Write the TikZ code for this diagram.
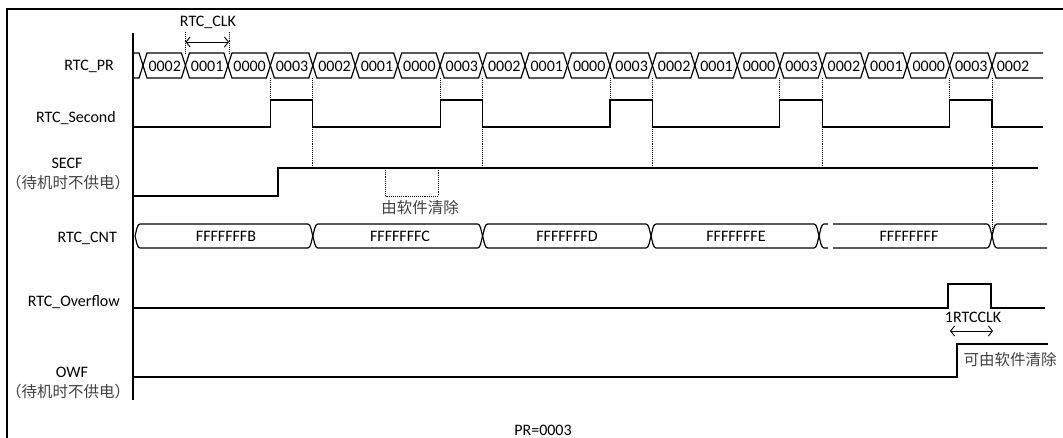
\documentclass[tikz,border=0pt]{standalone}
\usepackage{fontspec}
\setmainfont{Carlito}
\newfontfamily\cjk{Noto Sans CJK SC}
\usetikzlibrary{arrows.meta}
\begin{document}
\begin{tikzpicture}[x=1pt,y=-1pt,
  sig/.style={line width=1.2pt},
  guide/.style={densely dotted, line width=0.9pt},
  lbl/.style={font=\fontsize{16}{18}\selectfont, inner sep=0pt},
  cjklbl/.style={font=\cjk\fontsize{15.5}{18}\selectfont, inner sep=0pt, text=black!75},
  hexlbl/.style={font=\fontsize{16}{18}\selectfont, inner sep=0pt},
  cntlbl/.style={font=\fontsize{16}{18}\selectfont, inner sep=0pt},
  dimarrow/.style={line width=0.9pt, {Straight Barb[length=4pt,width=10pt]}-{Straight Barb[length=4pt,width=10pt]}}]
\useasboundingbox (0,0) rectangle (1063,438);
% frame and axis
\draw[line width=1.4pt] (7,438) -- (7,9) -- (1063,9);
\draw[line width=2pt] (133,33) -- (133,400);

% ---------- left labels ----------
\node[lbl, anchor=east] (lpr) at (114,66) {RTC\_PR};
\node[lbl, anchor=east] (lsec) at (116,118) {RTC\_Second};
\node[lbl] (lsecf) at (67,163) {SECF};
\node[cjklbl] (lsecfc) at (68,183) {（待机时不供电）};
\node[lbl, anchor=east] (lcnt) at (117,238) {RTC\_CNT};
\node[lbl, anchor=east] (lovf) at (120,302) {RTC\_Overflow};
\node[lbl] (lowf) at (72,372) {OWF};
\node[cjklbl] (lowfc) at (68,392) {（待机时不供电）};
\node[lbl] (lpreq) at (543,430) {PR=0003};

% ---------- RTC_PR bus ----------
\def\pp{42.45}
\draw[sig] (133,53) -- (139,53) -- (143,65.5) -- (139,78) -- (133,78);
\foreach \k/\v in {0/0002,1/0001,2/0000,3/0003,4/0002,5/0001,6/0000,7/0003,8/0002,9/0001,10/0000,11/0003,12/0002,13/0001,14/0000,15/0003,16/0002,17/0001,18/0000,19/0003}{
  \pgfmathsetmacro{\a}{143+\k*\pp}
  \pgfmathsetmacro{\b}{143+(\k+1)*\pp}
  \draw[sig] (\a,65.5) -- (\a+4,53) -- (\b-4,53) -- (\b,65.5) -- (\b-4,78) -- (\a+4,78) -- cycle;
  \node[hexlbl] (pr\k) at ({(\a+\b)/2+0.5},66) {\v};
}
\draw[sig] (1043,53) -- (996,53) -- (992,65.5) -- (996,78) -- (1043,78);
\node[hexlbl] (pr20) at (1013,66) {0002};

% RTC_CLK dimension
\coordinate (ck1t) at (185.5,32);
\coordinate (ck1b) at (185.5,53);
\coordinate (ck2t) at (229,32);
\coordinate (ck2b) at (229,53);
\draw[guide] (ck1t) -- (ck1b);
\draw[guide] (ck2t) -- (ck2b);
\coordinate (cka) at (185.5,42);
\coordinate (ckb) at (229,42);
\draw[dimarrow] (cka) -- (ckb);
\node[lbl] (lclk) at (208,22) {RTC\_CLK};

% ---------- RTC_Second ----------
\draw[sig] (133,127) -- (270.35,127) -- (270.35,100) -- (312.8,100) -- (312.8,127)
  -- (440.15,127) -- (440.15,100) -- (482.6,100) -- (482.6,127)
  -- (609.95,127) -- (609.95,100) -- (652.4,100) -- (652.4,127)
  -- (779.75,127) -- (779.75,100) -- (822.2,100) -- (822.2,127)
  -- (949.55,127) -- (949.55,100) -- (992,100) -- (992,127) -- (1043,127);

% guides
\foreach \x in {270.35,440.15,609.95,779.75,949.55}{
  \draw[guide] (\x,78) -- (\x,100);
}
\foreach \x in {312.8,482.6,652.4,822.2}{
  \draw[guide] (\x,78) -- (\x,168);
}
\draw[guide] (992,78) -- (992,236);

% ---------- SECF ----------
\draw[sig] (133,196) -- (278,196) -- (278,168) -- (1038,168);
\draw[guide] (385,168) -- (385,196) -- (438,196) -- (438,168);
\node[cjklbl] (clr1) at (420,208) {由软件清除};

% ---------- RTC_CNT bus ----------
\def\ct{224}\def\cb{248}\def\cm{236}
\foreach \a/\b in {135/312.8,312.8/482.6,482.6/651,651/819}{
  \draw[sig] (\a+5,\ct) -- (\b-5,\ct) .. controls (\b-2,\ct) and (\b-1.5,\cm-5) .. (\b,\cm)
     .. controls (\b-1.5,\cm+5) and (\b-2,\cb) .. (\b-5,\cb)
     -- (\a+5,\cb) .. controls (\a+2,\cb) and (\a+1.5,\cm+5) .. (\a,\cm)
     .. controls (\a+1.5,\cm-5) and (\a+2,\ct) .. (\a+5,\ct);
}
% segment with small gap
\draw[sig] (828,\ct) -- (824,\ct) .. controls (821,\ct) and (820.5,\cm-5) .. (819,\cm)
   .. controls (820.5,\cm+5) and (821,\cb) .. (824,\cb) -- (828,\cb);
\draw[sig] (833,\ct) -- (987,\ct) .. controls (990,\ct) and (990.5,\cm-5) .. (992,\cm)
   .. controls (990.5,\cm+5) and (990,\cb) .. (987,\cb) -- (833,\cb);
\draw[sig] (1047,\ct) -- (997,\ct) .. controls (994,\ct) and (993.5,\cm-5) .. (992,\cm)
   .. controls (993.5,\cm+5) and (994,\cb) .. (997,\cb) -- (1047,\cb);
\node[cntlbl] (cnt1) at (226,236) {FFFFFFFB};
\node[cntlbl] (cnt2) at (400,236) {FFFFFFFC};
\node[cntlbl] (cnt3) at (567,236) {FFFFFFFD};
\node[cntlbl] (cnt4) at (736,236) {FFFFFFFE};
\node[cntlbl] (cnt5) at (909,236) {FFFFFFFF};

% ---------- RTC_Overflow ----------
\draw[sig] (133,308) -- (948,308) -- (948,284) -- (991,284) -- (991,308) -- (1045,308);
\node[lbl] (l1clk) at (973,317) {1RTCCLK};
\coordinate (ova) at (950,331);
\coordinate (ovb) at (993,331);
\draw[dimarrow] (ova) -- (ovb);

% ---------- OWF ----------
\draw[sig] (133,377) -- (957,377) -- (957,344) -- (1048,344);
\node[cjklbl] (clr2) at (1010,360) {可由软件清除};
\end{tikzpicture}
\end{document}
